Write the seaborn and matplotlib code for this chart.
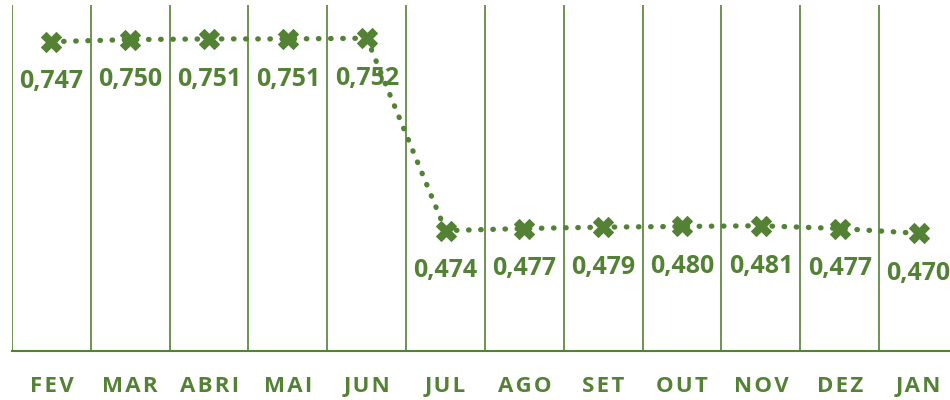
import matplotlib
matplotlib.use("Agg")
import matplotlib.pyplot as plt
import seaborn as sns
import pandas as pd

# ── data ──────────────────────────────────────────
months = ["FEV", "MAR", "ABRI", "MAI", "JUN", "JUL",
          "AGO", "SET", "OUT", "NOV", "DEZ", "JAN"]
values = [0.747, 0.750, 0.751, 0.751, 0.752, 0.474,
          0.477, 0.479, 0.480, 0.481, 0.477, 0.470]

GREEN = "#548235"

sns.set_style("white")
plt.rcParams["font.family"] = ["Open Sans", "DejaVu Sans"]

df = pd.DataFrame({"mes": months, "valor": values})

fig = plt.figure(figsize=(9.5, 4), dpi=100)
ax = fig.add_axes([12 / 950, 49 / 400, 946 / 950, 346 / 400])

sns.lineplot(data=df, x="mes", y="valor", ax=ax, color=GREEN,
             linestyle=(0, (0.1, 2.2)), dash_capstyle="round", lw=3.8,
             marker="X", markersize=14, markeredgecolor=GREEN,
             markerfacecolor=GREEN, sort=False)

for i, v in enumerate(values):
    ax.annotate(f"{v:.3f}".replace(".", ","), (i, v), xytext=(0, -29),
                textcoords="offset points", ha="center", va="center",
                fontsize=18, fontweight="bold", color=GREEN)

# vertical separators between categories
for b in range(len(months) + 1):
    ax.axvline(b - 0.5, color=GREEN, lw=1.2, zorder=0)

ax.set_xlim(-0.5, len(months) - 0.5)
ax.set_ylim(0.3, 0.8)
ax.set_yticks([])
ax.set_xlabel("")
ax.set_ylabel("")
ax.set_xticks(range(len(months)))
ax.set_xticklabels(["\u200a".join(m) for m in months], fontsize=16,
                   fontweight="bold", color=GREEN)
ax.tick_params(axis="x", length=0, pad=18)

for side in ["top", "left", "right"]:
    ax.spines[side].set_visible(False)
ax.spines["bottom"].set_color(GREEN)
ax.spines["bottom"].set_linewidth(1.5)

fig.savefig("out.png", dpi=100)
